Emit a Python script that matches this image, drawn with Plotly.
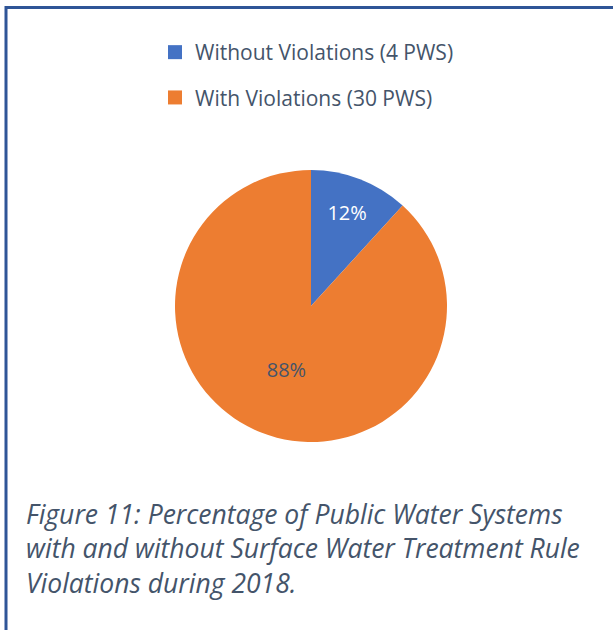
import plotly.graph_objects as go

labels = ["Without Violations (4 PWS)", "With Violations (30 PWS)"]
values = [4, 30]
colors = ["#4472C4", "#ED7D31"]
label_colors = ["#FFFFFF", "#44546A"]
caption = ("Figure 11: Percentage of Public Water Systems<br>"
           "with and without Surface Water Treatment Rule<br>"
           "Violations during 2018.")

W, H = 613, 630
cx, cy, r = 311, 306, 136

fig = go.Figure()
fig.add_trace(go.Pie(
    labels=labels, values=values, sort=False, direction="clockwise", rotation=0,
    marker=dict(colors=colors, line=dict(width=0)),
    textinfo="percent", texttemplate="%{percent:.0%}", textposition="inside",
    insidetextorientation="horizontal",
    insidetextfont=dict(family="Open Sans", size=20, color=label_colors),
    showlegend=False,
    domain=dict(x=[(cx - r) / W, (cx + r) / W], y=[1 - (cy + r) / H, 1 - (cy - r) / H]),
    hoverinfo="label+percent",
))
for i, (lab, col) in enumerate(zip(labels, colors)):
    fig.add_trace(go.Scatter(
        x=[None], y=[None], mode="markers", name=lab, legendgroup=f"g{i}",
        marker=dict(symbol="square", size=14, color=col), showlegend=True,
    ))

fig.update_layout(
    width=W, height=H, margin=dict(l=0, r=0, t=0, b=0),
    paper_bgcolor="white", plot_bgcolor="white",
    xaxis=dict(visible=False), yaxis=dict(visible=False),
    legend=dict(x=155 / W, y=1 - 32 / H, xanchor="left", yanchor="top",
                font=dict(family="Open Sans", size=21, color="#44546A"),
                tracegroupgap=15, bgcolor="rgba(0,0,0,0)"),
    shapes=[
        dict(type="line", xref="paper", yref="paper", x0=5 / W, x1=1, y0=1 - 7.5 / H, y1=1 - 7.5 / H,
             line=dict(color="#2F5597", width=3)),
        dict(type="line", xref="paper", yref="paper", x0=6 / W, x1=6 / W, y0=0, y1=1 - 6 / H,
             line=dict(color="#2F5597", width=3)),
    ],
    annotations=[dict(
        text=caption, xref="paper", yref="paper", x=24 / W, y=1 - 494 / H,
        xanchor="left", yanchor="top", align="left", showarrow=False,
        font=dict(family="Open Sans", size=26.5, color="#44546A", style="italic"),
    )],
)
fig.write_html("out.html", config={"displayModeBar": False},
               post_script="document.body.style.margin='0';")
